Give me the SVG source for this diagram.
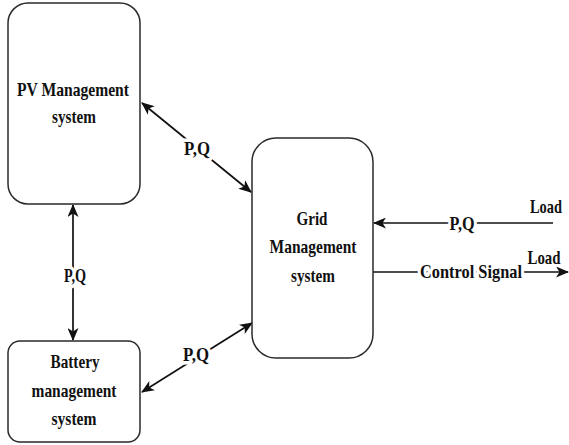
<svg xmlns="http://www.w3.org/2000/svg" width="569" height="445" viewBox="0 0 569 445">
  <style>
    .box { fill: #ffffff; stroke: #2a2a2a; stroke-width: 1.5; }
    .lbl { font-family: "Liberation Serif", "Times New Roman", serif; font-weight: bold; font-size: 19px; fill: #111; text-anchor: middle; }
    .wire { stroke: #111; stroke-width: 1.7; fill: none; }
    .halo { paint-order: stroke; stroke: #ffffff; stroke-width: 7; stroke-linejoin: round; }
  </style>
  <defs>
    <marker id="arrow" markerUnits="userSpaceOnUse" markerWidth="13" markerHeight="11" refX="12" refY="5.5" orient="auto-start-reverse">
      <path d="M0,0 L13,5.5 L0,11 L3.5,5.5 z" fill="#111"/>
    </marker>
  </defs>

  <rect width="569" height="445" fill="#ffffff"/>

  <!-- connectors -->
  <g id="connectors">
    <line class="wire" x1="142" y1="103" x2="251" y2="192" marker-start="url(#arrow)" marker-end="url(#arrow)"/>
    <line class="wire" x1="73" y1="205" x2="73" y2="340" marker-start="url(#arrow)" marker-end="url(#arrow)"/>
    <line class="wire" x1="142" y1="392" x2="252" y2="323" marker-start="url(#arrow)" marker-end="url(#arrow)"/>
    <line class="wire" x1="553" y1="223" x2="374" y2="223" marker-end="url(#arrow)"/>
    <line class="wire" x1="373" y1="272" x2="568" y2="272" marker-end="url(#arrow)"/>

    <text class="lbl halo" x="197" y="155" textLength="26" lengthAdjust="spacingAndGlyphs">P,Q</text>
    <text class="lbl halo" x="75" y="282" textLength="22" lengthAdjust="spacingAndGlyphs">P,Q</text>
    <text class="lbl halo" x="196" y="361" textLength="26" lengthAdjust="spacingAndGlyphs">P,Q</text>
    <text class="lbl halo" x="462" y="230" textLength="25" lengthAdjust="spacingAndGlyphs">P,Q</text>
    <text class="lbl halo" x="471" y="278" textLength="102" lengthAdjust="spacingAndGlyphs">Control Signal</text>
    <text class="lbl" x="546" y="213" textLength="32" lengthAdjust="spacingAndGlyphs">Load</text>
    <text class="lbl" x="544" y="264" textLength="33" lengthAdjust="spacingAndGlyphs">Load</text>
  </g>

  <!-- PV management -->
  <g id="pv">
    <rect class="box" x="8" y="3" width="132" height="201" rx="20"/>
    <text class="lbl" x="73" y="96" textLength="112" lengthAdjust="spacingAndGlyphs">PV Management</text>
    <text class="lbl" x="74" y="123" textLength="44" lengthAdjust="spacingAndGlyphs">system</text>
  </g>

  <!-- Battery management -->
  <g id="battery">
    <rect class="box" x="8" y="341" width="132" height="101" rx="12"/>
    <text class="lbl" x="75" y="368" textLength="49" lengthAdjust="spacingAndGlyphs">Battery</text>
    <text class="lbl" x="74" y="397" textLength="85" lengthAdjust="spacingAndGlyphs">management</text>
    <text class="lbl" x="74" y="425" textLength="45" lengthAdjust="spacingAndGlyphs">system</text>
  </g>

  <!-- Grid management -->
  <g id="grid">
    <rect class="box" x="252" y="138" width="121" height="220" rx="24"/>
    <text class="lbl" x="312" y="225" textLength="31" lengthAdjust="spacingAndGlyphs">Grid</text>
    <text class="lbl" x="313" y="253" textLength="87" lengthAdjust="spacingAndGlyphs">Management</text>
    <text class="lbl" x="313" y="282" textLength="44" lengthAdjust="spacingAndGlyphs">system</text>
  </g>
</svg>
